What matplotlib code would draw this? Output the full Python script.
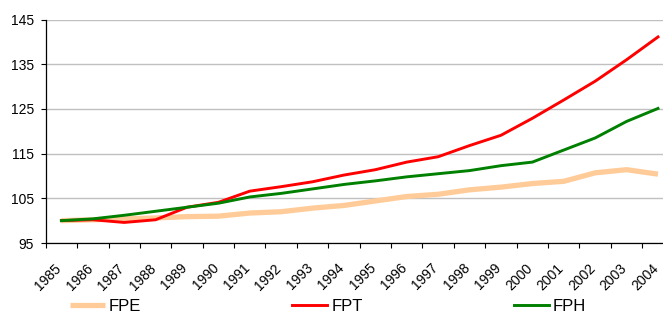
import matplotlib
matplotlib.use("Agg")
import matplotlib.pyplot as plt
from matplotlib.transforms import ScaledTranslation
import numpy as np

plt.rcParams['font.family'] = ['Liberation Sans', 'DejaVu Sans']

years = [str(y) for y in range(1985, 2005)]
fpe = [100, 100.2, 100.4, 100.6, 100.9, 101.0, 101.7, 102.0, 102.8, 103.4,
       104.4, 105.4, 105.9, 106.9, 107.5, 108.3, 108.8, 110.7, 111.4, 110.4]
fpt = [100, 100.2, 99.6, 100.2, 103.0, 104.1, 106.6, 107.6, 108.7, 110.2,
       111.4, 113.1, 114.3, 116.8, 119.1, 122.9, 127.0, 131.2, 136.0, 141.1]
fph = [100, 100.4, 101.2, 102.1, 103.0, 103.9, 105.3, 106.1, 107.1, 108.1,
       108.9, 109.8, 110.5, 111.2, 112.3, 113.1, 115.8, 118.5, 122.2, 125.1]
yticks = [95, 105, 115, 125, 135, 145]

W, H = 663, 313
fig = plt.figure(figsize=(W / 100, H / 100), dpi=100)
ax = fig.add_axes([45.7 / W, (H - 243) / H, (673.7 - 45.7) / W, (243 - 19.5) / H])

x = np.arange(len(years))
l1, = ax.plot(x, fpe, color='#FFCC99', lw=3.8, solid_capstyle='butt', label='FPE', zorder=3)
l2, = ax.plot(x, fpt, color='#FF0000', lw=2.1, label='FPT', zorder=4)
l3, = ax.plot(x, fph, color='#008000', lw=2.1, label='FPH', zorder=5)

ax.set_xlim(-0.5, len(years) - 0.5)
ax.set_ylim(95, 145)
ax.set_yticks(yticks)
ax.set_yticklabels([str(v) for v in yticks], fontsize=10)
ax.yaxis.grid(True, color='#C0C0C0', lw=1)
ax.set_axisbelow(True)

ax.set_xticks(np.arange(-0.5, len(years)), minor=False)
ax.set_xticklabels([])
ax.set_xticks(x, minor=True)
ax.set_xticklabels(years, minor=True, rotation=45, ha='right', va='top',
                   rotation_mode='anchor', fontsize=10)
ax.tick_params(axis='x', which='major', direction='out', length=3.6, width=0.8)
ax.tick_params(axis='x', which='minor', length=0, pad=13)
ax.tick_params(axis='y', direction='out', length=3.6, width=0.8, pad=5)

offset = ScaledTranslation(-7 / 100, 0, fig.dpi_scale_trans)
for lab in ax.xaxis.get_minorticklabels():
    lab.set_transform(lab.get_transform() + offset)

for s in ['top', 'right']:
    ax.spines[s].set_visible(False)
for s in ['left', 'bottom']:
    ax.spines[s].set_linewidth(0.9)
    ax.spines[s].set_color('black')

fig.legend(handles=[l1, l2, l3], loc='center left',
           bbox_to_anchor=(70 / W, 1 - 306.5 / H), ncol=3, frameon=False,
           fontsize=12, handlelength=2.1, handletextpad=0.24,
           columnspacing=9.06, borderpad=0, borderaxespad=0)

fig.savefig('out.png', dpi=100)
